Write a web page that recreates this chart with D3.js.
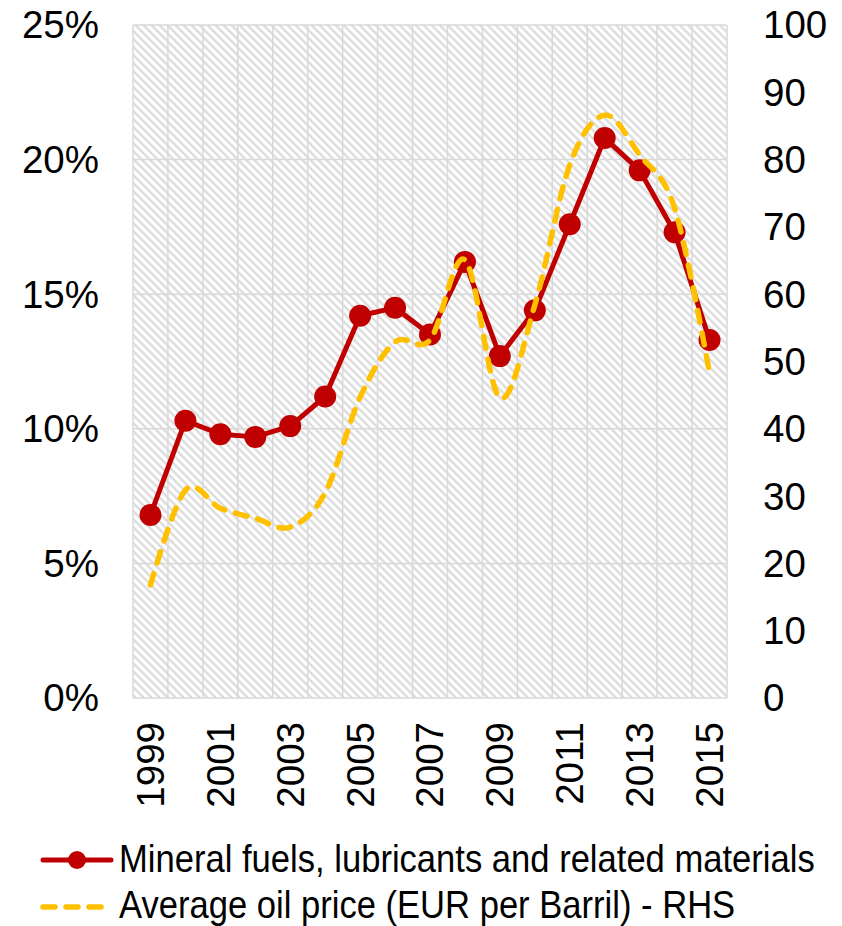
<!DOCTYPE html>
<html>
<head>
<meta charset="utf-8">
<script src="https://cdn.jsdelivr.net/npm/d3@7"></script>
<style>
  body { margin: 0; background: #fff; }
  svg { font-family: "Liberation Sans", Arial, sans-serif; }
</style>
</head>
<body>
<svg id="chart" width="842" height="926"></svg>
<script>
// years on the x axis
var years = ["1999","2000","2001","2002","2003","2004","2005","2006","2007","2008",
             "2009","2010","2011","2012","2013","2014","2015"];
// share of mineral fuels (%), left axis
var mineralShare = [6.8, 10.3, 9.8, 9.7, 10.1, 11.2, 14.2, 14.5, 13.5, 16.2,
                    12.7, 14.4, 17.6, 20.8, 19.6, 17.3, 13.3];
// average oil price, EUR per barrel, right axis
var oilPrice = [16.8, 30.9, 28.2, 26.7, 25.4, 30.5, 44.7, 52.9, 53.2, 65.1,
                44.6, 58.4, 79.2, 86.6, 80.7, 72.8, 48.3];
var leftTicks = [0, 5, 10, 15, 20, 25];
var rightTicks = [0, 10, 20, 30, 40, 50, 60, 70, 80, 90, 100];
var legendLabels = ["Mineral fuels, lubricants and related materials",
                    "Average oil price (EUR per Barril) - RHS"];

var dims = { left: 133, right: 727, top: 25, bottom: 698 };
var red = "#C00000", gold = "#FFC000", gridColor = "#d9d9d9";
var fontSize = "38.5px";

var svg = d3.select("#chart");

// hatched plot background
var defs = svg.append("defs");
var pat = defs.append("pattern")
    .attr("id", "hatch")
    .attr("patternUnits", "userSpaceOnUse")
    .attr("width", 5.66).attr("height", 5.66)
    .attr("patternTransform", "rotate(45)");
pat.append("rect").attr("width", 5.66).attr("height", 5.66).attr("fill", "#fff");
pat.append("rect").attr("width", 5.66).attr("height", 2.4).attr("fill", "#dcdcdc");

var x = d3.scaleBand().domain(years).range([dims.left, dims.right]).padding(0);
var yLeft = d3.scaleLinear().domain([0, 25]).range([dims.bottom, dims.top]);
var yRight = d3.scaleLinear().domain([0, 100]).range([dims.bottom, dims.top]);

svg.append("rect")
    .attr("x", dims.left).attr("y", dims.top)
    .attr("width", dims.right - dims.left).attr("height", dims.bottom - dims.top)
    .attr("fill", "url(#hatch)");

// vertical gridlines at category boundaries
var bounds = years.map(function(d) { return x(d); }).concat([dims.right]);
svg.append("g").selectAll("line")
    .data(bounds)
    .enter().append("line")
    .attr("x1", d => d).attr("x2", d => d)
    .attr("y1", dims.top).attr("y2", dims.bottom)
    .attr("stroke", gridColor).attr("stroke-width", 1.5);

// horizontal gridlines
svg.append("g").selectAll("line")
    .data(leftTicks)
    .enter().append("line")
    .attr("x1", dims.left).attr("x2", dims.right)
    .attr("y1", d => yLeft(d)).attr("y2", d => yLeft(d))
    .attr("stroke", gridColor).attr("stroke-width", 1.5);

// left axis labels
svg.append("g").selectAll("text")
    .data(leftTicks)
    .enter().append("text")
    .attr("x", 99).attr("y", d => yLeft(d))
    .attr("dy", "0.35em")
    .attr("text-anchor", "end")
    .style("font-size", fontSize)
    .text(d => d + "%");

// right axis labels
svg.append("g").selectAll("text")
    .data(rightTicks)
    .enter().append("text")
    .attr("x", 763).attr("y", d => yRight(d))
    .attr("dy", "0.35em")
    .attr("text-anchor", "start")
    .style("font-size", fontSize)
    .text(d => d);

// x labels, every other year, rotated
svg.append("g").selectAll("text")
    .data(years.filter((d, i) => i % 2 === 0))
    .enter().append("text")
    .attr("transform", d => "translate(" + (x(d) + x.bandwidth() / 2) + ",722) rotate(-90)")
    .attr("dy", "0.35em")
    .attr("text-anchor", "end")
    .style("font-size", fontSize)
    .text(d => d);

var cx = d => x(d) + x.bandwidth() / 2;

// mineral fuels line + markers
var redLine = d3.line()
    .x((d, i) => cx(years[i]))
    .y(d => yLeft(d));
svg.append("path")
    .datum(mineralShare)
    .attr("d", redLine)
    .attr("fill", "none")
    .attr("stroke", red)
    .attr("stroke-width", 5)
    .attr("stroke-linejoin", "round");
svg.append("g").selectAll("circle")
    .data(mineralShare)
    .enter().append("circle")
    .attr("cx", (d, i) => cx(years[i]))
    .attr("cy", d => yLeft(d))
    .attr("r", 11)
    .attr("fill", red);

// oil price, smoothed dashed line
var goldLine = d3.line()
    .x((d, i) => cx(years[i]))
    .y(d => yRight(d))
    .curve(d3.curveCatmullRom.alpha(0));
svg.append("path")
    .datum(oilPrice)
    .attr("d", goldLine)
    .attr("fill", "none")
    .attr("stroke", gold)
    .attr("stroke-width", 5.5)
    .attr("stroke-dasharray", "12,11")
    .attr("stroke-linecap", "round");

// legend
var leg = svg.append("g");
leg.append("line")
    .attr("x1", 43).attr("x2", 111).attr("y1", 860).attr("y2", 860)
    .attr("stroke", red).attr("stroke-width", 5).attr("stroke-linecap", "round");
leg.append("circle").attr("cx", 77).attr("cy", 860).attr("r", 9).attr("fill", red);
leg.append("line")
    .attr("x1", 43).attr("x2", 111).attr("y1", 907).attr("y2", 907)
    .attr("stroke", gold).attr("stroke-width", 5.5).attr("stroke-linecap", "round")
    .attr("stroke-dasharray", "12,11");
// legend text is a bit condensed in the original
leg.selectAll("text")
    .data(legendLabels)
    .enter().append("text")
    .attr("transform", (d, i) => "translate(119," + (859 + i * 46) + ") scale(0.91,1)")
    .attr("dy", "0.35em")
    .style("font-size", "38px")
    .text(d => d);
</script>
</body>
</html>
